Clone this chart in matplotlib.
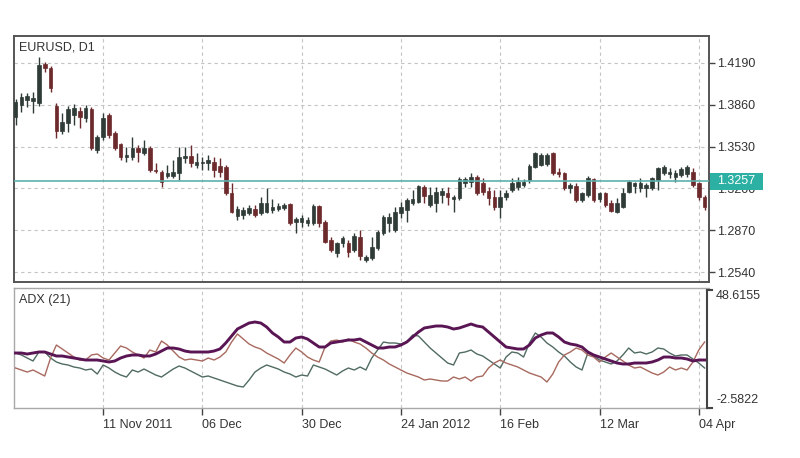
import numpy as np
import matplotlib
matplotlib.use("Agg")
import matplotlib.pyplot as plt
from matplotlib.patches import Rectangle
from matplotlib.lines import Line2D
from matplotlib.transforms import blended_transform_factory

plt.rcParams['font.family'] = ['Liberation Sans', 'DejaVu Sans']

# ---------------- data ----------------
symbol_title = "EURUSD, D1"
indicator_title = "ADX (21)"
current_price = 1.3257

opens = [
    1.3764, 1.3859, 1.3898, 1.3890, 1.3874, 1.4182, 1.4150, 1.3851, 1.3653, 1.3717,
    1.3780, 1.3811, 1.3756, 1.3827, 1.3504, 1.3606, 1.3780, 1.3638, 1.3551, 1.3448,
    1.3448, 1.3519, 1.3480, 1.3519, 1.3346, 1.3330, 1.3298, 1.3298, 1.3322, 1.3440,
    1.3456, 1.3385, 1.3401, 1.3401, 1.3409, 1.3377, 1.3369, 1.3164, 1.2983, 1.2991,
    1.3006, 1.3038, 1.3006, 1.3014, 1.3030, 1.3038, 1.3046, 1.3077, 1.2935, 1.2935,
    1.2927, 1.2927, 1.3062, 1.2935, 1.2793, 1.2691, 1.2770, 1.2770, 1.2715, 1.2817,
    1.2636, 1.2651, 1.2730, 1.2849, 1.2927, 1.2872, 1.3006, 1.3030, 1.3085, 1.3093,
    1.3212, 1.3070, 1.3085, 1.3148, 1.3164, 1.3117, 1.3125, 1.3243, 1.3251, 1.3291,
    1.3243, 1.3180, 1.3133, 1.3054, 1.3133, 1.3188, 1.3212, 1.3227, 1.3267, 1.3369,
    1.3385, 1.3393, 1.3480, 1.3330, 1.3322, 1.3204, 1.3220, 1.3109, 1.3148, 1.3275,
    1.3117, 1.3164, 1.3085, 1.3014, 1.3054, 1.3172, 1.3220, 1.3204, 1.3204, 1.3204,
    1.3267, 1.3322, 1.3314, 1.3291, 1.3306, 1.3314, 1.3330, 1.3243, 1.3133]

closes = [
    1.3882, 1.3922, 1.3930, 1.3914, 1.4174, 1.4150, 1.3993, 1.3653, 1.3724, 1.3827,
    1.3835, 1.3764, 1.3835, 1.3519, 1.3606, 1.3756, 1.3622, 1.3519, 1.3448, 1.3464,
    1.3519, 1.3488, 1.3519, 1.3346, 1.3338, 1.3251, 1.3322, 1.3330, 1.3448, 1.3456,
    1.3401, 1.3409, 1.3409, 1.3425, 1.3346, 1.3330, 1.3164, 1.3014, 1.3038, 1.3030,
    1.3046, 1.2991, 1.3085, 1.3085, 1.3054, 1.3062, 1.3070, 1.2927, 1.2959, 1.2967,
    1.2951, 1.3062, 1.2927, 1.2778, 1.2715, 1.2770, 1.2809, 1.2699, 1.2825, 1.2667,
    1.2659, 1.2738, 1.2857, 1.2975, 1.2975, 1.3014, 1.3054, 1.3109, 1.3117, 1.3220,
    1.3141, 1.3148, 1.3172, 1.3180, 1.3133, 1.3133, 1.3275, 1.3275, 1.3291, 1.3164,
    1.3172, 1.3125, 1.3054, 1.3133, 1.3164, 1.3243, 1.3251, 1.3251, 1.3377, 1.3480,
    1.3464, 1.3464, 1.3322, 1.3314, 1.3204, 1.3227, 1.3109, 1.3164, 1.3283, 1.3109,
    1.3164, 1.3070, 1.3022, 1.3085, 1.3164, 1.3251, 1.3243, 1.3243, 1.3227, 1.3283,
    1.3361, 1.3369, 1.3330, 1.3322, 1.3354, 1.3369, 1.3227, 1.3133, 1.3054]

highs = [
    1.3906, 1.3953, 1.3953, 1.3961, 1.4237, 1.4198, 1.4166, 1.3874, 1.3795, 1.3851,
    1.3866, 1.3843, 1.3859, 1.3843, 1.3622, 1.3795, 1.3795, 1.3653, 1.3559, 1.3527,
    1.3606, 1.3543, 1.3582, 1.3535, 1.3401, 1.3346, 1.3385, 1.3425, 1.3527, 1.3527,
    1.3543, 1.3480, 1.3448, 1.3464, 1.3448, 1.3440, 1.3385, 1.3243, 1.3062, 1.3054,
    1.3070, 1.3070, 1.3133, 1.3204, 1.3117, 1.3085, 1.3085, 1.3085, 1.2975, 1.2991,
    1.2975, 1.3077, 1.3070, 1.2951, 1.2817, 1.2778, 1.2825, 1.2793, 1.2849, 1.2872,
    1.2675, 1.2817, 1.2872, 1.2991, 1.3006, 1.3054, 1.3093, 1.3125, 1.3188, 1.3227,
    1.3227, 1.3212, 1.3212, 1.3204, 1.3212, 1.3148, 1.3291, 1.3291, 1.3322, 1.3306,
    1.3283, 1.3212, 1.3188, 1.3188, 1.3188, 1.3283, 1.3291, 1.3275, 1.3393, 1.3488,
    1.3480, 1.3480, 1.3488, 1.3361, 1.3330, 1.3243, 1.3243, 1.3172, 1.3298, 1.3283,
    1.3172, 1.3172, 1.3109, 1.3125, 1.3204, 1.3267, 1.3251, 1.3283, 1.3243, 1.3291,
    1.3369, 1.3385, 1.3361, 1.3346, 1.3369, 1.3385, 1.3361, 1.3251, 1.3148]

lows = [
    1.3701, 1.3803, 1.3843, 1.3795, 1.3851, 1.4119, 1.3961, 1.3598, 1.3630, 1.3645,
    1.3701, 1.3677, 1.3724, 1.3504, 1.3480, 1.3582, 1.3598, 1.3504, 1.3425, 1.3409,
    1.3425, 1.3409, 1.3464, 1.3330, 1.3322, 1.3212, 1.3283, 1.3283, 1.3267, 1.3401,
    1.3369, 1.3361, 1.3346, 1.3346, 1.3291, 1.3291, 1.3148, 1.3006, 1.2951, 1.2959,
    1.2991, 1.2975, 1.2991, 1.3006, 1.3006, 1.3022, 1.3030, 1.2912, 1.2849, 1.2896,
    1.2904, 1.2912, 1.2896, 1.2770, 1.2699, 1.2659, 1.2738, 1.2659, 1.2699, 1.2636,
    1.2620, 1.2636, 1.2715, 1.2833, 1.2857, 1.2857, 1.2967, 1.2935, 1.3070, 1.3085,
    1.3085, 1.3054, 1.3014, 1.3085, 1.3070, 1.3014, 1.3109, 1.3212, 1.3212, 1.3148,
    1.3148, 1.3070, 1.3030, 1.2967, 1.3109, 1.3172, 1.3188, 1.3212, 1.3243, 1.3361,
    1.3377, 1.3377, 1.3306, 1.3291, 1.3188, 1.3164, 1.3093, 1.3093, 1.3133, 1.3093,
    1.3093, 1.3054, 1.3014, 1.3006, 1.3046, 1.3164, 1.3164, 1.3172, 1.3133, 1.3188,
    1.3188, 1.3306, 1.3283, 1.3251, 1.3291, 1.3291, 1.3212, 1.3109, 1.3030]

adx = [
    20.88, 20.88, 20.45, 20.88, 21.31, 21.31, 20.45, 19.60, 19.60, 19.17,
    18.75, 18.32, 17.89, 17.89, 17.89, 17.47, 17.04, 17.47, 18.75, 19.60,
    20.03, 20.03, 19.60, 19.60, 20.45, 21.73, 23.01, 23.01, 22.59, 21.73,
    21.31, 21.31, 21.31, 21.31, 21.73, 22.59, 25.15, 28.13, 31.12, 32.40,
    33.68, 34.11, 33.68, 31.98, 29.42, 27.71, 25.57, 25.57, 27.28, 27.71,
    26.85, 25.15, 23.44, 23.44, 25.15, 25.57, 26.00, 26.43, 26.43, 26.85,
    25.57, 24.29, 23.01, 23.01, 23.44, 23.44, 24.29, 25.57, 27.71, 29.84,
    31.55, 31.98, 32.40, 32.40, 31.98, 31.12, 31.55, 32.40, 33.25, 32.40,
    31.98, 29.84, 27.71, 25.57, 23.44, 23.01, 22.59, 22.59, 24.29, 27.28,
    28.56, 29.42, 29.42, 27.71, 25.57, 24.72, 24.29, 23.44, 21.31, 20.03,
    19.17, 18.32, 17.47, 16.61, 16.19, 16.19, 16.61, 16.61, 16.61, 17.04,
    17.89, 19.17, 19.17, 18.75, 18.75, 18.32, 17.47, 17.89, 17.89]

plus_di = [
    20.88, 20.03, 18.75, 17.47, 21.31, 21.31, 18.75, 17.04, 16.19, 15.76,
    14.91, 14.48, 13.63, 14.05, 11.92, 15.76, 14.48, 12.77, 11.49, 10.64,
    13.63, 12.77, 14.05, 12.77, 11.49, 10.64, 12.35, 14.05, 15.33, 14.48,
    13.20, 11.92, 10.64, 11.07, 10.21, 9.36, 8.51, 7.65, 6.80, 6.37,
    9.36, 12.77, 14.48, 15.76, 14.91, 14.05, 12.77, 11.92, 10.64, 11.49,
    11.07, 15.76, 14.91, 14.05, 12.77, 11.49, 13.20, 14.48, 13.63, 14.91,
    13.63, 18.75, 22.16, 25.57, 25.15, 25.15, 24.72, 25.57, 28.56, 28.13,
    25.57, 23.01, 20.88, 18.75, 16.61, 15.76, 20.88, 21.31, 22.16, 20.45,
    19.60, 17.89, 16.19, 14.48, 19.17, 21.31, 20.88, 19.17, 25.15, 29.42,
    27.71, 25.15, 23.44, 21.31, 19.60, 17.04, 14.91, 13.63, 20.88, 19.60,
    17.89, 17.04, 16.19, 17.47, 20.03, 23.01, 20.88, 21.31, 20.45, 21.31,
    23.01, 22.59, 20.88, 19.60, 20.03, 20.03, 18.32, 16.61, 14.48]

minus_di = [
    14.48, 13.63, 12.77, 13.63, 12.35, 11.07, 18.75, 24.29, 22.59, 20.88,
    19.17, 17.89, 17.89, 20.03, 20.45, 18.75, 17.89, 20.88, 23.87, 23.01,
    21.31, 20.03, 18.75, 22.16, 21.31, 26.00, 24.29, 21.73, 19.17, 17.89,
    18.32, 17.89, 17.47, 18.75, 17.89, 19.17, 21.31, 25.57, 28.99, 26.85,
    24.72, 23.44, 22.59, 20.88, 19.60, 18.32, 16.61, 20.03, 23.01, 21.31,
    19.17, 17.89, 17.04, 23.44, 26.00, 26.43, 25.57, 26.85, 25.57, 24.72,
    23.01, 20.88, 19.17, 17.89, 16.19, 14.91, 13.63, 12.35, 11.49, 10.64,
    9.36, 9.79, 9.36, 8.93, 8.93, 10.64, 9.79, 10.64, 8.93, 10.64,
    11.07, 14.48, 16.61, 17.89, 16.61, 15.76, 14.91, 13.63, 12.35, 11.49,
    10.64, 8.51, 11.92, 17.04, 20.03, 21.31, 23.01, 22.16, 20.03, 19.17,
    17.04, 19.17, 20.88, 19.17, 17.47, 15.76, 14.48, 14.91, 13.63, 12.35,
    11.49, 12.77, 14.91, 13.63, 14.48, 13.63, 17.04, 22.16, 25.57]

price_ticks = [1.2540, 1.2870, 1.3200, 1.3530, 1.3860, 1.4190]
date_labels = ["11 Nov 2011", "06 Dec", "30 Dec", "24 Jan 2012", "16 Feb", "12 Mar", "04 Apr"]
date_bars = [15, 32, 49, 66, 83, 100, 117]
adx_max_label = "48.6155"
adx_min_label = "-2.5822"
adx_range = (-2.5822, 48.6155)

# ---------------- style ----------------
BULL = '#2f3b37'
BEAR = '#6c2a2c'
GRID = '#c4c4c4'
TXT = '#333333'
FS = 9

o = np.array(opens); c = np.array(closes); h = np.array(highs); l = np.array(lows)
N = len(c)
x = np.arange(N)
cols = np.where(c >= o, BULL, BEAR)

W, H = 800, 458
fig = plt.figure(figsize=(W / 100, H / 100), dpi=100)
fig.patch.set_facecolor('white')

L, R = 14, 709
ax = fig.add_axes([L / W, 1 - 282 / H, (R - L) / W, (282 - 36) / H])
ax2 = fig.add_axes([L / W, 1 - 408 / H, (R - L) / W, (408 - 288) / H])

xlim = (-0.26, 118.75)

# ---- main candlestick panel ----
ax.vlines(x, l, h, colors=cols, lw=1.0, zorder=3)
body_bottom = np.minimum(o, c)
body_height = np.maximum(np.abs(c - o), 0.0003)
ax.bar(x, body_height, bottom=body_bottom, width=0.62, color=cols,
       edgecolor=cols, linewidth=0.5, zorder=4)

ax.set_xlim(*xlim)
ax.set_ylim(1.2462, 1.4403)
ax.set_yticks(price_ticks)
ax.set_yticklabels([f"{v:.4f}" for v in price_ticks])
ax.yaxis.tick_right()
ax.tick_params(axis='y', length=4, width=1, color='#444444', labelsize=FS,
               labelcolor=TXT, pad=2)
ax.set_xticks(date_bars)
ax.tick_params(axis='x', length=0, labelbottom=False)
ax.grid(True, linestyle=(0, (3, 3)), color=GRID, lw=0.8, zorder=0)
ax.set_axisbelow(True)
for s in ax.spines.values():
    s.set_color('#555555')
    s.set_linewidth(1.4)

ax.axhline(current_price, color='#5cb0ad', lw=1.2, zorder=5)
tr = blended_transform_factory(ax.transAxes, ax.transData)
box_h = 17 * (1.4403 - 1.2462) / 246
ax.add_patch(Rectangle((1.0015, current_price - box_h / 2), 53 / (R - L), box_h,
                       transform=tr, facecolor='#2bb0a3', edgecolor='none',
                       clip_on=False, zorder=10))
ax.text(1.0015 + 26.5 / (R - L), current_price, f"{current_price:.4f}", transform=tr,
        ha='center', va='center', color='white', fontsize=FS, zorder=11, clip_on=False)

ax.text(0.0075, 0.955, symbol_title, transform=ax.transAxes, fontsize=FS,
        color=TXT, va='center', ha='left')

# ---- ADX panel ----
ax2.plot(x, plus_di, color='#506b62', lw=1.0, zorder=3)
ax2.plot(x, minus_di, color='#a8695f', lw=1.0, zorder=3)
ax2.plot(x, adx, color='#5a1654', lw=2.1, zorder=4)
ax2.set_xlim(*xlim)
ax2.set_ylim(*adx_range)
ax2.set_yticks([])
ax2.set_xticks(date_bars)
ax2.set_xticklabels(date_labels)
for lab in ax2.get_xticklabels():
    lab.set_horizontalalignment('left')
ax2.tick_params(axis='x', length=5, width=1, color='#444444', labelsize=FS,
                labelcolor=TXT, pad=3, direction='out')
ax2.grid(True, axis='x', linestyle=(0, (3, 3)), color=GRID, lw=0.8, zorder=0)
ax2.set_axisbelow(True)
for name, s in ax2.spines.items():
    s.set_color('#a8a8a8')
    s.set_linewidth(1.0)
ax2.spines['right'].set_visible(False)

ax2.text(0.0075, 0.9, indicator_title, transform=ax2.transAxes, fontsize=FS,
         color=TXT, va='center', ha='left')

# bracket scale on the right
bx = 0.997
tick_w = 5 / (R - L)
for seg in ([(bx, bx), (0.985, 0.0)],
            [(bx, bx + tick_w), (0.985, 0.985)],
            [(bx, bx + tick_w), (0.0, 0.0)]):
    ax2.add_line(Line2D(seg[0], seg[1], transform=ax2.transAxes, color='#444444',
                        lw=1.5, clip_on=False, zorder=6))
ax2.text(1.0101, 0.935, adx_max_label, transform=ax2.transAxes, fontsize=FS,
         color=TXT, va='center', ha='left', clip_on=False)
ax2.text(1.0101, 0.067, adx_min_label, transform=ax2.transAxes, fontsize=FS,
         color=TXT, va='center', ha='left', clip_on=False)

fig.savefig("out.png", dpi=100, facecolor='white')
